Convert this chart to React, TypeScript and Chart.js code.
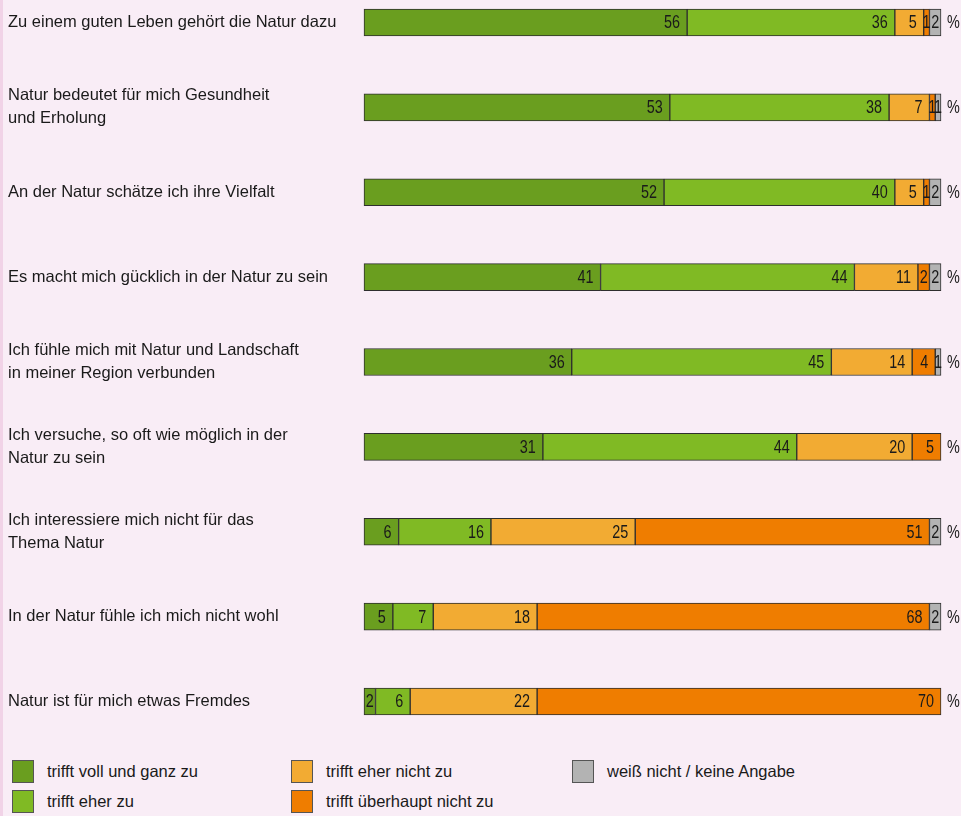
import React, { useEffect, useRef } from "react";
import { Chart, registerables } from "chart.js";

Chart.register(...registerables);

const categories: (string | string[])[] = [
  "Zu einem guten Leben gehört die Natur dazu",
  ["Natur bedeutet für mich Gesundheit", "und Erholung"],
  "An der Natur schätze ich ihre Vielfalt",
  "Es macht mich gücklich in der Natur zu sein",
  ["Ich fühle mich mit Natur und Landschaft", "in meiner Region verbunden"],
  ["Ich versuche, so oft wie möglich in der", "Natur zu sein"],
  ["Ich interessiere mich nicht für das", "Thema Natur"],
  "In der Natur fühle ich mich nicht wohl",
  "Natur ist für mich etwas Fremdes",
];

const seriesNames = [
  "trifft voll und ganz zu",
  "trifft eher zu",
  "trifft eher nicht zu",
  "trifft überhaupt nicht zu",
  "weiß nicht / keine Angabe",
];

const vollUndGanz = [56, 53, 52, 41, 36, 31, 6, 5, 2];
const eherZu = [36, 38, 40, 44, 45, 44, 16, 7, 6];
const eherNicht = [5, 7, 5, 11, 14, 20, 25, 18, 22];
const ueberhauptNicht = [1, 1, 1, 2, 4, 5, 51, 68, 70];
const weissNicht = [2, 1, 2, 2, 1, null, 2, 2, null];

const unitLabel = "%";

const seriesColors = ["#6a9e1f", "#80ba24", "#f2ab33", "#ef7d00", "#b3b3b3"];

const LABEL_FONT = '"Liberation Sans", Arial, sans-serif';
const NARROW = 0.8;

function drawNarrow(ctx: any, txt: string, x: number, y: number, align: "left" | "right" | "center") {
  const w = ctx.measureText(txt).width * NARROW;
  let left = x;
  if (align === "right") left = x - w;
  else if (align === "center") left = x - w / 2;
  ctx.save();
  ctx.translate(left, y);
  ctx.scale(NARROW, 1);
  ctx.textAlign = "left";
  ctx.fillText(txt, 0, 0);
  ctx.restore();
}

const valuePlugin = {
  id: "valueLabels",
  afterDatasetsDraw(chart: any) {
    const ctx = chart.ctx;
    ctx.save();
    ctx.font = `18px ${LABEL_FONT}`;
    ctx.fillStyle = "#1a1a1a";
    ctx.textBaseline = "middle";
    chart.data.datasets.forEach((ds: any, di: number) => {
      const meta = chart.getDatasetMeta(di);
      meta.data.forEach((el: any, i: number) => {
        const v = ds.data[i];
        if (v == null) return;
        const p = el.getProps(["x", "base", "y"], true);
        const left = Math.min(p.x, p.base);
        const right = Math.max(p.x, p.base);
        const w = right - left;
        const txt = String(v);
        const tw = ctx.measureText(txt).width * NARROW;
        if (tw >= w) {
          drawNarrow(ctx, txt, (left + right) / 2, p.y + 1, "center");
        } else {
          const pad = Math.min(7, (w - tw) / 2);
          drawNarrow(ctx, txt, right - pad, p.y + 1, "right");
        }
      });
    });
    const ys = chart.scales.y;
    chart.data.labels.forEach((_: any, i: number) => {
      drawNarrow(ctx, unitLabel, chart.chartArea.right + 6, ys.getPixelForValue(i) + 1, "left");
    });
    ctx.restore();
  },
};

const legendLayout = [
  { idx: 0, left: 12, top: 760 },
  { idx: 1, left: 12, top: 790 },
  { idx: 2, left: 291, top: 760 },
  { idx: 3, left: 291, top: 790 },
  { idx: 4, left: 572, top: 760 },
];

export default function App() {
  const ref = useRef<HTMLCanvasElement | null>(null);

  useEffect(() => {
    if (!ref.current) return;
    const seriesData = [vollUndGanz, eherZu, eherNicht, ueberhauptNicht, weissNicht];
    const chart = new Chart(ref.current, {
      type: "bar",
      data: {
        labels: categories as any,
        datasets: seriesData.map((d, i) => ({
          label: seriesNames[i],
          data: d as any,
          backgroundColor: seriesColors[i],
          borderColor: "#2e2e2e",
          borderWidth: 1,
          borderSkipped: false,
          barThickness: 27,
          clip: false as any,
        })),
      },
      options: {
        indexAxis: "y",
        animation: false,
        responsive: false,
        devicePixelRatio: 1,
        layout: { padding: { left: 8, right: 20, top: 22.5, bottom: 43.5 } },
        plugins: {
          legend: { display: false },
          tooltip: { enabled: false },
        },
        scales: {
          x: {
            stacked: true,
            min: 0,
            max: 100,
            display: false,
          },
          y: {
            stacked: true,
            offset: false,
            grid: { display: false },
            border: { display: false },
            ticks: {
              crossAlign: "far",
              color: "#1a1a1a",
              padding: 0,
              autoSkip: false,
              font: { family: LABEL_FONT, size: 16.5, lineHeight: 1.4 },
            },
            afterFit(scale: any) {
              scale.width = 356;
            },
          },
        },
      } as any,
      plugins: [valuePlugin],
    });
    return () => chart.destroy();
  }, []);

  return (
    <div
      style={{
        position: "fixed",
        left: 0,
        top: 0,
        width: 961,
        height: 816,
        background: "#f9edf6",
        overflow: "hidden",
      }}
    >
      <div
        style={{
          position: "absolute",
          left: 0,
          top: 0,
          width: 3,
          height: 816,
          background: "#f1d3e7",
        }}
      />
      <canvas
        ref={ref}
        width={961}
        height={745}
        style={{ position: "absolute", left: 0, top: 0, width: 961, height: 745 }}
      />
      {legendLayout.map((l) => (
        <div key={l.idx}>
          <div
            style={{
              position: "absolute",
              left: l.left,
              top: l.top,
              width: 20,
              height: 21,
              background: seriesColors[l.idx],
              border: "1px solid #555",
            }}
          />
          <div
            style={{
              position: "absolute",
              left: l.left + 35,
              top: l.top,
              height: 23,
              lineHeight: "23px",
              fontFamily: LABEL_FONT,
              fontSize: 16.5,
              color: "#1a1a1a",
              whiteSpace: "nowrap",
            }}
          >
            {seriesNames[l.idx]}
          </div>
        </div>
      ))}
    </div>
  );
}
